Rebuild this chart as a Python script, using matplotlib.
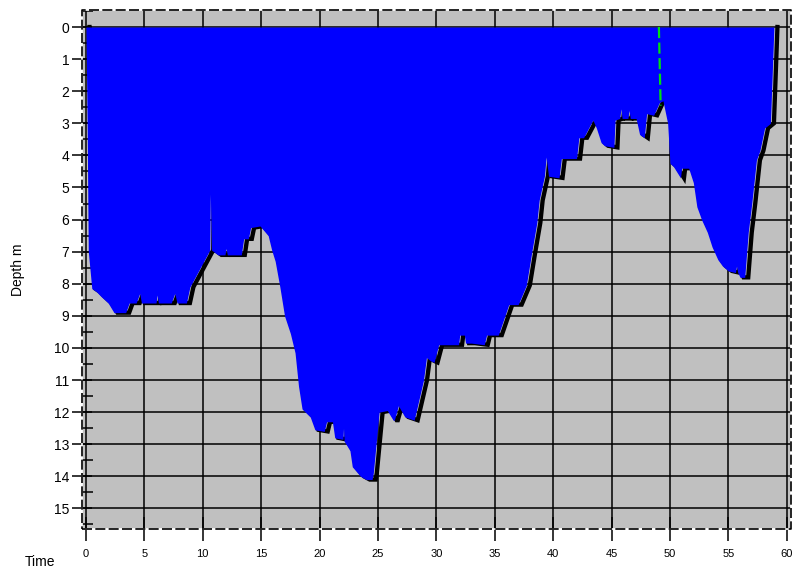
import matplotlib.pyplot as plt
from matplotlib.ticker import MultipleLocator

# dive profile (time in min, depth in m)
time = [0.0, 0.1, 0.15, 0.2, 0.5, 0.9, 1.3, 1.9, 2.4, 3.4, 3.7, 4.3, 4.6, 4.75,
        6.0, 6.1, 6.2, 7.3, 7.6, 7.8, 8.6, 8.9, 10.6, 10.65, 10.75, 11.3, 11.9,
        12.0, 12.1, 13.3, 13.5, 13.9, 14.1, 14.9, 15.6, 15.9, 16.2, 16.6, 17.0,
        17.5, 17.9, 18.2, 18.5, 19.2, 19.6, 20.4, 20.6, 21.1, 21.3, 22.0, 22.05,
        22.1, 22.6, 22.8, 23.5, 24.0, 24.5, 24.6, 25.1, 25.8, 26.3, 26.4, 26.75,
        27.3, 28.1, 28.9, 29.15, 29.5, 29.8, 30.2, 31.9, 32.0, 32.4, 32.5, 33.0,
        34.1, 34.3, 35.3, 36.2, 37.0, 37.7, 38.15, 38.6, 38.8, 39.25, 39.4, 39.6,
        40.5, 40.7, 42.0, 42.2, 42.6, 43.4, 43.7, 44.1, 44.4, 45.2, 45.3, 45.7,
        45.8, 45.9, 46.4, 46.5, 46.6, 47.1, 47.4, 47.8, 48.0, 48.6, 49.1, 49.4,
        49.8, 50.0, 50.3, 50.9, 51.0, 51.6, 52.0, 52.3, 52.7, 53.2, 53.6, 54.1,
        54.5, 55.0, 55.6, 55.7, 55.8, 56.0, 56.4, 56.7, 57.0, 57.4, 57.7, 58.1,
        58.6, 58.9]
depth = [0.0, 3.0, 5.0, 7.0, 8.15, 8.25, 8.4, 8.6, 8.9, 8.9, 8.6, 8.6, 8.3, 8.6,
         8.6, 8.35, 8.6, 8.6, 8.3, 8.6, 8.6, 8.1, 6.95, 5.2, 6.95, 7.1, 7.1,
         6.9, 7.1, 7.1, 6.6, 6.6, 6.25, 6.2, 6.5, 6.95, 7.3, 8.1, 9.0,
         9.55, 10.15, 11.2, 11.9, 12.15, 12.55, 12.6, 12.3, 12.3, 12.8, 12.85, 12.5,
         12.9, 13.2, 13.7, 14.0, 14.1, 14.1, 13.9, 12.0, 11.95, 12.25, 12.25, 11.8,
         12.15, 12.25, 11.0, 10.3, 10.4, 10.45, 9.9, 9.9, 9.6, 9.6, 9.85, 9.85,
         9.9, 9.6, 9.6, 8.65, 8.65, 8.05, 7.05, 6.1, 5.4, 4.65, 4.05, 4.65,
         4.7, 4.1, 4.1, 3.45, 3.45, 2.9, 3.15, 3.6, 3.7, 3.75, 2.9, 2.85,
         2.55, 2.85, 2.85, 2.6, 2.85, 2.85, 3.35, 3.45, 2.7, 2.75, 2.35, 2.3,
         3.0, 4.25, 4.35, 4.7, 4.4, 4.4, 4.85, 5.6, 6.0, 6.4, 6.85, 7.25,
         7.45, 7.6, 7.65, 7.45, 7.65, 7.8, 7.8, 6.4, 5.5, 4.15, 3.85, 3.15,
         3.0, 0.0]

marker_time = [49.05, 49.2]
marker_depth = [0.0, 2.45]

line_lag = 0.3  # black trace sits a touch behind the filled profile

fig = plt.figure(figsize=(7.96, 5.71), dpi=100)
ax = fig.add_axes([0.103, 0.0736, 0.8907, 0.9089])
ax.set_facecolor('#C0C0C0')

ax.plot([t + line_lag for t in time], depth, color='black', lw=3.1, zorder=3,
        solid_joinstyle='miter')
ax.fill_between(time, 0, depth, color='#0000FF', lw=0, zorder=4)
ax.plot(marker_time, marker_depth, color='#00E010', lw=1.6, ls=(0, (5, 2)), zorder=5)

ax.set_xlim(-0.34, 60.36)
ax.set_ylim(15.64, -0.53)

ax.xaxis.set_major_locator(MultipleLocator(5))
ax.yaxis.set_major_locator(MultipleLocator(1))
ax.yaxis.set_minor_locator(MultipleLocator(0.5))
ax.grid(True, which='major', color='black', lw=1.1, zorder=1)
ax.set_axisbelow(True)

ax.tick_params(axis='x', direction='inout', length=17, width=1.1, labelsize=8,
               pad=6, top=False)
ax.tick_params(axis='y', which='major', direction='inout', length=14, width=1.1,
               labelsize=10, pad=2)
ax.tick_params(axis='y', which='minor', direction='in', length=8, width=1.1)
for lab in ax.get_xticklabels() + ax.get_yticklabels():
    lab.set_family('Liberation Sans')

for sp in ax.spines.values():
    sp.set_visible(False)
frame_x = [0, 1, 1, 0, 0]
frame_y = [0, 0, 1, 1, 0]
ax.plot(frame_x, frame_y, transform=ax.transAxes, color='white', lw=1.2,
        clip_on=False, zorder=6)
ax.plot(frame_x, frame_y, transform=ax.transAxes, color='black', lw=1.2,
        ls=(0, (6, 2)), clip_on=False, zorder=7)

fig.text(0.023, 0.527, 'Depth m', rotation=90, ha='center', va='center',
         fontsize=10, family='Liberation Sans')
fig.text(0.05, 0.016, 'Time', ha='center', va='center', fontsize=10,
         family='Liberation Sans')

fig.savefig('out.png', dpi=100)
